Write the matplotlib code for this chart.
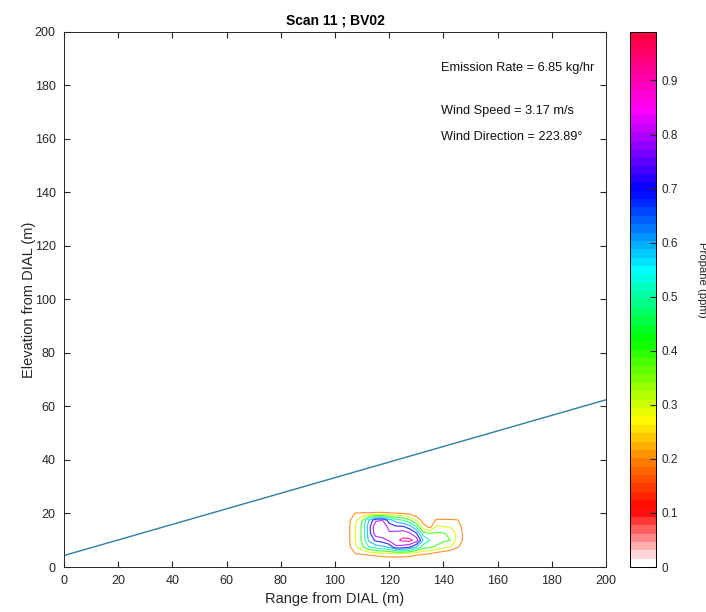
import numpy as np
import matplotlib.pyplot as plt
from matplotlib.colors import LinearSegmentedColormap

plt.rcParams['font.family'] = ['Liberation Sans', 'DejaVu Sans']

xg = [100, 102.5, 105, 107.5, 110, 112.5, 115, 117.5, 120, 122.5, 125,
      127.5, 130, 132.5, 135, 137.5, 140, 142.5, 145, 147.5, 150]
yg = [0, 2.5, 5, 7.5, 10, 12.5, 15, 17.5, 20, 22.5, 25]
conc_cols = [
    [0, 0,    0,    0,    0,    0,    0,    0,    0,    0,    0],
    [0, 0,    0.03, 0.06, 0.07, 0.07, 0.07, 0.06, 0.04, 0,    0],
    [0, 0,    0.1,  0.17, 0.18, 0.18, 0.18, 0.17, 0.12, 0.02, 0],
    [0, 0.05, 0.2,  0.28, 0.3,  0.3,  0.3,  0.28, 0.21, 0.05, 0],
    [0, 0.05, 0.22, 0.38, 0.42, 0.42, 0.42, 0.4,  0.22, 0.05, 0],
    [0, 0.06, 0.24, 0.5,  0.62, 0.65, 0.66, 0.6,  0.22, 0.05, 0],
    [0, 0.08, 0.26, 0.55, 0.72, 0.86, 0.88, 0.78, 0.23, 0.05, 0],
    [0, 0.1,  0.28, 0.58, 0.75, 0.88, 0.9,  0.8,  0.23, 0.05, 0],
    [0, 0.1,  0.3,  0.62, 0.82, 0.82, 0.76, 0.65, 0.22, 0.04, 0],
    [0, 0.1,  0.3,  0.78, 0.88, 0.84, 0.72, 0.55, 0.21, 0.04, 0],
    [0, 0.1,  0.3,  0.76, 0.92, 0.86, 0.72, 0.5,  0.2,  0.04, 0],
    [0, 0.08, 0.28, 0.72, 0.93, 0.82, 0.65, 0.42, 0.18, 0.03, 0],
    [0, 0.06, 0.24, 0.6,  0.86, 0.72, 0.5,  0.3,  0.12, 0.02, 0],
    [0, 0.05, 0.22, 0.45, 0.6,  0.45, 0.25, 0.15, 0.05, 0,    0],
    [0, 0.04, 0.2,  0.42, 0.5,  0.4,  0.17, 0.12, 0.04, 0,    0],
    [0, 0.03, 0.16, 0.38, 0.45, 0.42, 0.32, 0.22, 0.06, 0,    0],
    [0, 0.02, 0.14, 0.33, 0.42, 0.41, 0.3,  0.22, 0.05, 0,    0],
    [0, 0,    0.1,  0.3,  0.4,  0.38, 0.3,  0.22, 0.04, 0,    0],
    [0, 0,    0.06, 0.22, 0.28, 0.28, 0.25, 0.21, 0.03, 0,    0],
    [0, 0,    0.02, 0.15, 0.18, 0.18, 0.17, 0.15, 0.02, 0,    0],
    [0, 0,    0,    0,    0,    0,    0,    0,    0,    0,    0],
]
levels = [0.2, 0.3, 0.4, 0.5, 0.6, 0.7, 0.8, 0.9]

# beam line
beam_x = [0, 200]
beam_y = [4.3, 62.5]

info = ['Emission Rate = 6.85 kg/hr', 'Wind Speed = 3.17 m/s', 'Wind Direction = 223.89°']
info_y = [186.5, 170.5, 160.7]

vmax = 0.99
anchors = [(0.0, (1, 1, 1)), (0.1, (1, 0, 0)), (0.2, (1, 0.55, 0)), (0.27, (1, 1, 0)),
           (0.42, (0, 1, 0)), (0.55, (0, 1, 1)), (0.7, (0, 0, 1)), (0.85, (1, 0, 1)),
           (vmax, (1, 0, 0.25))]
cmap = LinearSegmentedColormap.from_list('prop', [(v / vmax, c) for v, c in anchors], N=64)

fig = plt.figure(figsize=(7.06, 6.12), dpi=100)
ax = fig.add_axes([0.0907, 0.0735, 0.7677, 0.8745])
cax = fig.add_axes([0.892, 0.0735, 0.037, 0.8745])

ax.plot(beam_x, beam_y, color='#2b7fa6', lw=1)
conc = np.array(conc_cols).T
ax.contour(xg, yg, conc, levels=levels, cmap=cmap, vmin=0, vmax=vmax, linewidths=0.85, alpha=0.8)

for t, y in zip(info, info_y):
    ax.text(139, y, t, fontsize=9.2, va='center', color='#111111')

ax.set_xlim(0, 200)
ax.set_ylim(0, 200)
ax.set_xticks(np.arange(0, 201, 20))
ax.set_yticks(np.arange(0, 201, 20))
ax.tick_params(direction='in', top=True, right=True, length=4, labelsize=9, pad=6, colors='#262626')
for s in ax.spines.values():
    s.set_color('#262626')
    s.set_linewidth(0.7)
ax.set_xlabel('Range from DIAL (m)', fontsize=10.5, color='#262626', labelpad=3)
ax.set_ylabel('Elevation from DIAL (m)', fontsize=10.5, color='#262626', labelpad=-1)
ax.set_title('Scan 11 ; BV02', fontsize=10, fontweight='bold', pad=5)

sm = plt.cm.ScalarMappable(cmap=cmap, norm=plt.Normalize(0, vmax))
cb = fig.colorbar(sm, cax=cax)
cb.set_ticks(np.arange(0, 0.91, 0.1))
cb.set_ticklabels(['0', '0.1', '0.2', '0.3', '0.4', '0.5', '0.6', '0.7', '0.8', '0.9'])
cax.tick_params(direction='in', length=4, labelsize=8.5, pad=4, colors='#262626')
cb.outline.set_linewidth(0.7)
fig.text(0.995, 0.5425, 'Propane (ppm)', rotation=270, fontsize=8.2, va='center', ha='center', color='#262626')

fig.savefig('out.png', dpi=100)
